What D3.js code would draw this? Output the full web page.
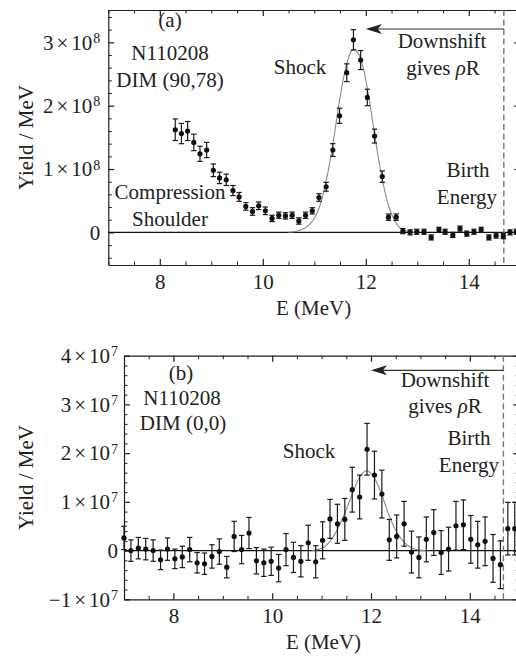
<!DOCTYPE html>
<html>
<head>
<meta charset="utf-8">
<script src="https://cdn.jsdelivr.net/npm/d3@7"></script>
<style>
body { margin: 0; background: #fff; }
svg text { font-family: 'Liberation Serif', 'DejaVu Serif', serif; fill: #222; }
</style>
</head>
<body>
<script>
// panel (a) : E in MeV, yield in units of 1e8 / MeV
var aE = [8.30,8.42,8.54,8.66,8.78,8.91,9.04,9.16,9.29,9.42,9.54,9.67,9.80,9.92,10.05,10.18,10.31,10.44,
	10.57,10.70,10.83,10.96,11.09,11.23,11.36,11.49,11.63,11.76,11.90,12.03,12.17,12.32,12.44,12.59,
	12.72,12.86,12.99,13.13,13.27,13.42,13.54,13.69,13.83,13.96,14.10,14.24,14.39,14.53,14.67,14.80,14.92];
var aY = [1.62,1.56,1.60,1.42,1.24,1.30,0.98,0.86,0.83,0.66,0.56,0.41,0.33,0.42,0.34,0.22,0.27,0.26,
	0.27,0.18,0.27,0.34,0.55,0.72,1.30,1.84,2.52,3.04,2.72,2.13,1.52,0.88,0.24,0.24,
	0.02,0.00,0.01,0.01,-0.08,0.04,0.01,-0.04,0.06,-0.02,0.01,0.04,-0.08,-0.05,-0.06,0.00,0.01];
var aErr = [0.17,0.16,0.15,0.13,0.12,0.12,0.10,0.09,0.09,0.08,0.07,0.06,0.06,0.06,0.06,0.05,0.05,0.05,
	0.05,0.05,0.05,0.05,0.06,0.07,0.10,0.12,0.14,0.16,0.15,0.13,0.11,0.09,0.05,0.05,
	0.04,0.04,0.04,0.04,0.04,0.04,0.04,0.04,0.04,0.04,0.04,0.04,0.04,0.04,0.04,0.04,0.04];
// shock fit
var aFitE = [10.5,10.6,10.7,10.8,10.9,11.0,11.1,11.2,11.3,11.4,11.5,11.6,11.7,11.77,11.85,11.95,
	12.05,12.15,12.25,12.35,12.45,12.55,12.65,12.75,12.9,13.0];
var aFitY = [0.003,0.01,0.03,0.06,0.12,0.22,0.40,0.70,1.10,1.60,2.13,2.56,2.83,2.89,2.83,2.60,
	2.18,1.66,1.15,0.72,0.40,0.20,0.08,0.03,0.005,0];

// panel (b) : yield in units of 1e7 / MeV
var bE = [7.00,7.14,7.29,7.44,7.59,7.74,7.88,8.03,8.18,8.33,8.48,8.63,8.78,8.93,9.08,9.23,9.38,9.53,
	9.68,9.83,9.98,10.13,10.28,10.43,10.58,10.73,10.88,11.02,11.17,11.32,11.47,11.62,11.77,11.92,
	12.07,12.22,12.37,12.52,12.67,12.82,12.97,13.12,13.27,13.42,13.57,13.72,13.87,14.02,14.16,14.31,
	14.47,14.62,14.77,14.91];
var bY = [0.26,0.00,0.05,0.03,0.00,-0.19,0.03,-0.17,-0.13,0.02,-0.25,-0.27,-0.12,-0.02,-0.34,0.29,0.02,0.36,
	-0.21,-0.25,-0.22,-0.36,0.02,-0.14,-0.22,0.16,-0.23,0.21,0.65,0.55,0.64,1.25,1.10,2.08,
	1.55,1.16,0.22,0.29,0.55,-0.03,-0.14,0.23,0.37,-0.04,0.03,0.51,0.53,0.23,0.12,0.19,
	-0.16,-0.29,0.45,0.45];
var bErr = [0.24,0.22,0.22,0.22,0.22,0.20,0.23,0.20,0.22,0.25,0.21,0.22,0.24,0.26,0.22,0.31,0.29,0.32,
	0.27,0.28,0.29,0.28,0.33,0.31,0.32,0.36,0.33,0.38,0.40,0.40,0.43,0.46,0.45,0.53,
	0.49,0.49,0.42,0.44,0.46,0.43,0.42,0.46,0.47,0.45,0.45,0.50,0.51,0.49,0.48,0.50,
	0.49,0.49,0.54,0.54];
var bFitE = [10.8,10.95,11.05,11.17,11.32,11.47,11.62,11.77,11.91,12.05,12.2,12.37,12.52,12.67,12.82,12.97,13.1];
var bFitY = [0.0,0.03,0.07,0.19,0.43,0.77,1.16,1.51,1.64,1.52,1.20,0.71,0.38,0.17,0.06,0.01,0.0];

var xTicks = [8,10,12,14];
var aYTicks = [0,1,2,3];
var bYTicks = [-1,0,1,2,3,4];
var birthE = 14.68;   // birth energy marker
var arrowE = 12.0;    // downshift arrow points to here

var FONT = "Liberation Serif";

var svg = d3.select("body").append("svg")
	.attr("width", 516)
	.attr("height", 658)
	.attr("font-family", FONT);

// "3 x 10^8" style labels
function supLabel(sel, exp) {
	sel.each(function(d) {
		var t = d3.select(this);
		if (d == 0) { t.text("0"); return; }
		var m = d < 0 ? "\u2212" + (-d) : "" + d;
		t.text(null);
		t.append("tspan").text(m);
		t.append("tspan").attr("dx", 3).text("\u00d7");
		t.append("tspan").attr("dx", 3).text("10");
		t.append("tspan").attr("dx", 1).attr("dy", "-0.48em").attr("font-size", 14).text(exp);
	});
}

function panel(p) {
	var x = d3.scaleLinear().domain([7, 15]).range([p.left, p.right]);
	var y = d3.scaleLinear().domain(p.ydom).range([p.bottom, p.top]);
	var g = svg.append("g");

	var minorX = d3.range(14, 31).map(i => i / 2).filter(v => v % 2 != 0);
	var minorY = d3.range(Math.ceil(p.ydom[0] * 5), Math.floor(p.ydom[1] * 5) + 1)
		.map(i => i / 5).filter(v => Math.abs(v - Math.round(v)) > 1e-6);

	function ax(axis, tr, major, minor, labels) {
		var a = g.append("g").attr("transform", tr).attr("color", "#1e1e1e");
		a.call(axis.tickValues(major).tickSizeInner(-6).tickSizeOuter(0).tickPadding(labels ? p.pad : 0)
			.tickFormat(labels ? labels : ""));
		a.attr("font-family", FONT);
		a.selectAll("text").attr("font-size", 21).attr("font-family", FONT);
		a.selectAll("path, line").attr("stroke-width", 1.2);
		var b = g.append("g").attr("transform", tr).attr("color", "#1e1e1e");
		b.call(axis.tickValues(minor).tickSizeInner(-3.5).tickSizeOuter(0).tickFormat(""));
		b.select(".domain").remove();
		b.selectAll("line").attr("stroke-width", 1);
		return a;
	}
	ax(d3.axisBottom(x), "translate(0," + p.bottom + ")", xTicks, minorX, d3.format("d"));
	ax(d3.axisTop(x), "translate(0," + p.top + ")", xTicks, minorX, null);
	var la = ax(d3.axisLeft(y), "translate(" + p.left + ",0)", p.yTicks, minorY, d3.format("d"));
	la.selectAll("text").call(supLabel, p.exp);
	la.selectAll(".tick text").attr("x", -p.ypad);
	ax(d3.axisRight(y), "translate(" + p.right + ",0)", p.yTicks, minorY, null);

	// zero line
	g.append("line")
		.attr("x1", x(7)).attr("x2", x(15))
		.attr("y1", y(0)).attr("y2", y(0))
		.attr("stroke", "#111").attr("stroke-width", 1.2);

	// birth energy
	g.append("line")
		.attr("x1", x(birthE)).attr("x2", x(birthE))
		.attr("y1", p.top).attr("y2", p.bottom)
		.attr("stroke", "#777").attr("stroke-width", 1.4)
		.attr("stroke-dasharray", "6,3.5");

	// fit
	var line = d3.line().x(d => x(d[0])).y(d => y(d[1])).curve(d3.curveMonotoneX);
	g.append("path")
		.datum(d3.zip(p.fitE, p.fitY))
		.attr("d", line)
		.attr("fill", "none")
		.attr("stroke", "#8a8a8a")
		.attr("stroke-width", 1.1);

	// data with error bars
	var pts = d3.zip(p.E, p.Y, p.err);
	var eb = g.append("g").attr("stroke", "#1a1a1a").attr("stroke-width", 1.2);
	eb.selectAll(".v").data(pts).enter().append("line")
		.attr("x1", d => x(d[0])).attr("x2", d => x(d[0]))
		.attr("y1", d => y(d[1] - d[2])).attr("y2", d => y(d[1] + d[2]));
	eb.selectAll(".t").data(pts).enter().append("line")
		.attr("x1", d => x(d[0]) - 2.7).attr("x2", d => x(d[0]) + 2.7)
		.attr("y1", d => y(d[1] + d[2])).attr("y2", d => y(d[1] + d[2]));
	eb.selectAll(".b").data(pts).enter().append("line")
		.attr("x1", d => x(d[0]) - 2.7).attr("x2", d => x(d[0]) + 2.7)
		.attr("y1", d => y(d[1] - d[2])).attr("y2", d => y(d[1] - d[2]));
	g.append("g").selectAll("circle").data(pts).enter().append("circle")
		.attr("cx", d => x(d[0])).attr("cy", d => y(d[1]))
		.attr("r", 2.6).attr("fill", "#111");

	// downshift arrow
	var ay = y(p.arrowY), tx = x(arrowE);
	g.append("line")
		.attr("x1", x(birthE)).attr("x2", tx + 10)
		.attr("y1", ay).attr("y2", ay)
		.attr("stroke", "#333").attr("stroke-width", 1.2);
	g.append("path")
		.attr("d", "M" + tx + "," + ay + "L" + (tx + 16) + "," + (ay - 5) + "L" + (tx + 12) + "," + ay +
			"L" + (tx + 16) + "," + (ay + 5) + "Z")
		.attr("fill", "#222");

	// labels
	g.selectAll(".note").data(p.notes).enter().append("text")
		.attr("x", d => d[0]).attr("y", d => d[1])
		.attr("text-anchor", "middle")
		.attr("font-size", 21)
		.attr("font-family", FONT)
		.attr("fill", "#2a2a2a")
		.each(function(d) {
			var t = d3.select(this);
			if (d[2] == "gives \u03c1R") {
				t.append("tspan").text("gives ");
				t.append("tspan").attr("font-style", "italic").text("\u03c1");
				t.append("tspan").text("R");
			} else t.text(d[2]);
		});

	svg.append("text")
		.attr("x", (p.left + 519) / 2 + p.xlabShift).attr("y", p.bottom + 50)
		.attr("text-anchor", "middle").attr("font-size", 21).attr("font-family", FONT)
		.text("E (MeV)");
	svg.append("text")
		.attr("transform", "translate(33," + (p.top + p.bottom) / 2 + ") rotate(-90)")
		.attr("text-anchor", "middle").attr("font-size", 21).attr("font-family", FONT)
		.text("Yield / MeV");
}

panel({
	left: 108.3, right: 520.3, top: 10, bottom: 265,
	ydom: [-0.515, 3.51], yTicks: aYTicks, exp: "8", pad: 9, ypad: 8, xlabShift: 0,
	E: aE, Y: aY, err: aErr, fitE: aFitE, fitY: aFitY, arrowY: 3.21,
	notes: [[170, 27, "(a)"], [170, 60, "N110208"], [170, 87, "DIM (90,78)"],
		[300, 74, "Shock"], [442, 48, "Downshift"], [443, 75, "gives \u03c1R"],
		[468, 177, "Birth"], [467, 204, "Energy"],
		[170, 199, "Compression"], [170, 226, "Shoulder"]]
});

panel({
	left: 124, right: 519.2, top: 355.7, bottom: 599.3,
	ydom: [-1, 4], yTicks: bYTicks, exp: "7", pad: 9, ypad: 6, xlabShift: 2,
	E: bE, Y: bY, err: bErr, fitE: bFitE, fitY: bFitY, arrowY: 3.70,
	notes: [[181, 380, "(b)"], [182, 405, "N110208"], [183, 430, "DIM (0,0)"],
		[309, 458, "Shock"], [445, 387, "Downshift"], [445, 413, "gives \u03c1R"],
		[469, 445, "Birth"], [469, 472, "Energy"]]
});
</script>
</body>
</html>
